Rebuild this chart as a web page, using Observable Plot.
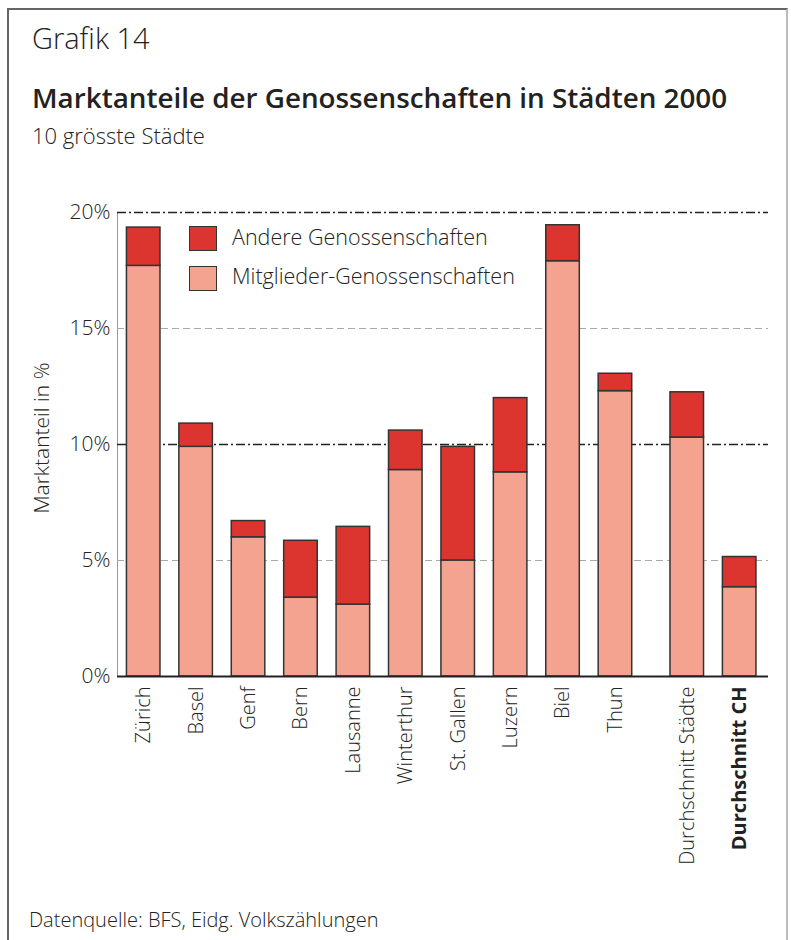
<!DOCTYPE html>
<html>
<head>
<meta charset="utf-8">
<script src="https://cdn.jsdelivr.net/npm/d3@7"></script>
<script src="https://cdn.jsdelivr.net/npm/@observablehq/plot@0.6"></script>
<style>
  html, body { margin: 0; padding: 0; background: #fff; }
  body { width: 791px; height: 940px; position: relative; overflow: hidden; font-family: "Open Sans", "Noto Sans", sans-serif; color: #222; }
  .frame { position: absolute; left: 7px; top: 8px; width: 781px; height: 960px; border: 2px solid #666; border-right-color: #bbb; box-sizing: border-box; }
  .t { position: absolute; white-space: nowrap; line-height: 1.15; }
  #chart { position: absolute; left: 0; top: 0; }
  .sw { position: absolute; width: 28px; height: 25px; border: 1.5px solid #333; box-sizing: border-box; }
</style>
</head>
<body>
<div class="frame"></div>
<div class="t" style="left:32px; top:21px; font-size:29px; font-weight:300;">Grafik 14</div>
<div class="t" style="left:32px; top:82px; font-size:27.8px; font-weight:600;">Marktanteile der Genossenschaften in Städten 2000</div>
<div class="t" style="left:32px; top:123px; font-size:22px; font-weight:300;">10 grösste Städte</div>
<div id="chart"></div>
<div class="t" style="left:41px; top:438px; font-size:21px; font-weight:300; transform: translate(-50%,-50%) rotate(-90deg); transform-origin: center;">Marktanteil in %</div>
<div class="sw" style="left:189px; top:226px; background:#dc3530;"></div>
<div class="t" style="left:232px; top:225px; font-size:21.5px; font-weight:300;">Andere Genossenschaften</div>
<div class="sw" style="left:189px; top:266px; background:#f4a391;"></div>
<div class="t" style="left:232px; top:264px; font-size:21.5px; font-weight:300;">Mitglieder-Genossenschaften</div>
<div class="t" style="left:29px; top:908px; font-size:20px; font-weight:300;">Datenquelle: BFS, Eidg. Volkszählungen</div>
<script>
const categories = ["Zürich", "Basel", "Genf", "Bern", "Lausanne", "Winterthur", "St. Gallen", "Luzern", "Biel", "Thun", "Durchschnitt Städte", "Durchschnitt CH"];
const groups = ["Stadt", "Stadt", "Stadt", "Stadt", "Stadt", "Stadt", "Stadt", "Stadt", "Stadt", "Stadt", "Durchschnitt", "Durchschnitt"];
const mitglieder = [17.7, 9.9, 6.0, 3.4, 3.1, 8.9, 5.0, 8.8, 17.9, 12.3, 10.3, 3.85];
const andere = [1.65, 1.0, 0.7, 2.45, 3.35, 1.7, 4.9, 3.2, 1.55, 0.75, 1.95, 1.3];
const yTicks = [0, 5, 10, 15, 20];
const majorTicks = [10, 20];
const minorTicks = [5, 15];
const boldLabel = "Durchschnitt CH";

const salmon = "#f4a391";
const red = "#dc3530";
const groupGap = 0.37;
const halfBar = 0.32;
const xDomain = [-0.5, categories.length - 1 + groupGap + 0.55];

const data = categories.map((c, i) => ({
  name: c,
  pos: i + (groups[i] === "Durchschnitt" ? groupGap : 0),
  mitglieder: mitglieder[i],
  total: mitglieder[i] + andere[i],
  bold: c === boldLabel
}));

const labelOpts = { x: "pos", y: 0, text: "name", rotate: -90, textAnchor: "end", dy: 10, fontSize: 20, fill: "#222" };

const chart = Plot.plot({
  width: 791,
  height: 900,
  marginTop: 212,
  marginBottom: 224,
  marginLeft: 117,
  marginRight: 23,
  style: { fontFamily: "'Open Sans', 'Noto Sans', sans-serif", fontSize: "21px", fontWeight: 300, color: "#222", background: "transparent" },
  x: { type: "linear", domain: xDomain, axis: null },
  y: { domain: [0, 20], ticks: yTicks, tickFormat: d => d + "%", tickSize: 0, tickPadding: 7, label: null },
  marks: [
    Plot.ruleX([xDomain[0]], { stroke: "#999", strokeWidth: 1 }),
    Plot.ruleY(minorTicks, { stroke: "#aaa", strokeDasharray: "7,4", strokeWidth: 1 }),
    Plot.ruleY(majorTicks, { stroke: "#222", strokeDasharray: "9,3,2,3", strokeWidth: 1.5 }),
    Plot.rectY(data, { x1: d => d.pos - halfBar, x2: d => d.pos + halfBar, y1: 0, y2: "mitglieder", fill: salmon, stroke: "#333", strokeWidth: 1.5 }),
    Plot.rectY(data, { x1: d => d.pos - halfBar, x2: d => d.pos + halfBar, y1: "mitglieder", y2: "total", fill: red, stroke: "#333", strokeWidth: 1.5 }),
    Plot.ruleY([0], { stroke: "#222", strokeWidth: 2 }),
    Plot.text(data.filter(d => !d.bold), { ...labelOpts, fontWeight: 300 }),
    Plot.text(data.filter(d => d.bold), { ...labelOpts, fontWeight: "bold" })
  ]
});
document.getElementById("chart").appendChild(chart);
</script>
</body>
</html>
